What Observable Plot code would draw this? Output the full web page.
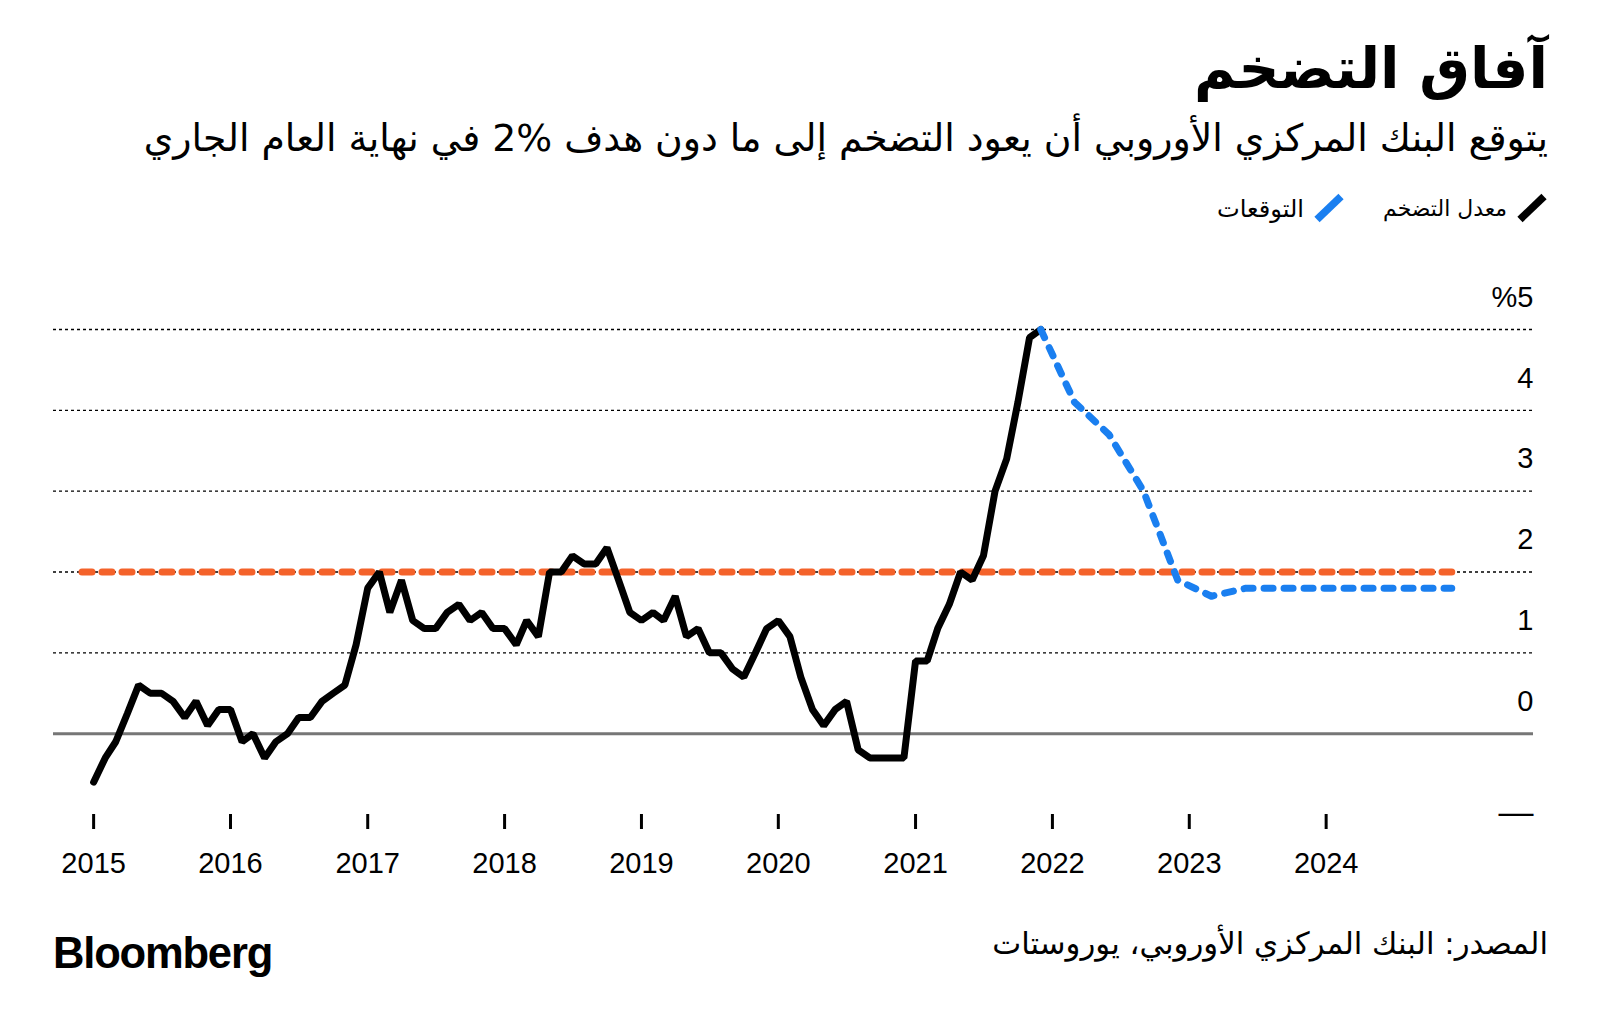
<!DOCTYPE html>
<html><head><meta charset="utf-8">
<script src="https://cdn.jsdelivr.net/npm/d3@7"></script>
<script src="https://cdn.jsdelivr.net/npm/@observablehq/plot@0.6"></script>
<style>
body{margin:0;background:#fff;width:1600px;height:1033px;position:relative;overflow:hidden;font-family:"DejaVu Sans",sans-serif;color:#000}
.t{position:absolute;white-space:nowrap;direction:rtl;transform:translateY(-50%);line-height:1.3}
#chart{position:absolute;left:0;top:260px}
#legend{position:absolute;right:52px;top:208px;transform:translateY(-50%);display:flex;direction:rtl;align-items:center;gap:38px}
.li{display:flex;align-items:center;gap:9px;direction:rtl}
.li span{font-size:20px;white-space:nowrap}
#brand{position:absolute;left:53px;top:954px;transform:translateY(-50%);font-family:"Liberation Sans",Arial,sans-serif;font-weight:bold;font-size:43px;letter-spacing:-1.2px;line-height:1}
</style></head><body>
<div id="title" class="t" style="right:52px;top:69px;font-weight:bold;font-size:60px"></div>
<div id="subtitle" class="t" style="right:52px;top:139px;font-size:33px"></div>
<div id="legend"></div>
<div id="chart"></div>
<div id="brand">Bloomberg</div>
<div id="source" class="t" style="right:52px;top:944px;font-size:28px"></div>
<script>
// ---- texts ----
const titleText = "آفاق التضخم";
const subtitleText = "يتوقع البنك المركزي الأوروبي أن يعود التضخم إلى ما دون هدف %2 في نهاية العام الجاري";
const sourceText = "المصدر: البنك المركزي الأوروبي، يوروستات";
const legendLabels = ["معدل التضخم", "التوقعات"];
const legendColors = ["#000000", "#1a7ff0"];

// ---- data ----
// monthly inflation rate, Jan 2015 .. Dec 2021 (%)
const inflation2015 = [-0.6, -0.3, -0.1, 0.25, 0.6, 0.5, 0.5, 0.4, 0.2, 0.4, 0.1, 0.3];
const inflation2016 = [0.3, -0.1, 0.0, -0.3, -0.1, 0.0, 0.2, 0.2, 0.4, 0.5, 0.6, 1.1];
const inflation2017 = [1.8, 2.0, 1.5, 1.9, 1.4, 1.3, 1.3, 1.5, 1.6, 1.4, 1.5, 1.3];
const inflation2018 = [1.3, 1.1, 1.4, 1.2, 2.0, 2.0, 2.2, 2.1, 2.1, 2.3, 1.9, 1.5];
const inflation2019 = [1.4, 1.5, 1.4, 1.7, 1.2, 1.3, 1.0, 1.0, 0.8, 0.7, 1.0, 1.3];
const inflation2020 = [1.4, 1.2, 0.7, 0.3, 0.1, 0.3, 0.4, -0.2, -0.3, -0.3, -0.3, -0.3];
const inflation2021 = [0.9, 0.9, 1.3, 1.6, 2.0, 1.9, 2.2, 3.0, 3.4, 4.1, 4.9, 5.0];
const inflationYears = [2015, 2016, 2017, 2018, 2019, 2020, 2021];
const inflationByYear = [inflation2015, inflation2016, inflation2017, inflation2018, inflation2019, inflation2020, inflation2021];

// ECB projections (quarterly)
const forecastDates = ["2021-12-01","2022-03-01","2022-06-01","2022-09-01","2022-12-01","2023-03-01","2023-06-01","2023-09-01","2023-12-01","2024-03-01","2024-06-01","2024-09-01","2024-12-01"];
const forecastValues = [5.0, 4.1, 3.7, 3.0, 1.9, 1.7, 1.8, 1.8, 1.8, 1.8, 1.8, 1.8, 1.8];

// ECB target
const targetDates = ["2014-12-01", "2024-12-01"];
const targetValues = [2, 2];

const xTickYears = [2015, 2016, 2017, 2018, 2019, 2020, 2021, 2022, 2023, 2024];
const yGrid = [1, 2, 3, 4, 5];
const yTicks = [0, 1, 2, 3, 4, 5];
const yTickLabels = ["0", "1", "2", "3", "4", "%5"];
const yMinLabel = "—";

// ---- build tables ----
const actual = inflationYears.flatMap((yr, i) =>
  inflationByYear[i].map((v, m) => ({date: new Date(Date.UTC(yr, m, 1)), value: v})));
const forecast = forecastDates.map((d, i) => ({date: new Date(d), value: forecastValues[i]}));
const target = targetDates.map((d, i) => ({date: new Date(d), value: targetValues[i]}));
const yearDates = xTickYears.map(y => new Date(Date.UTC(y, 0, 1)));

// ---- header / footer ----
document.getElementById("title").textContent = titleText;
document.getElementById("subtitle").textContent = subtitleText;
document.getElementById("source").textContent = sourceText;
const leg = document.getElementById("legend");
legendLabels.forEach((lab, i) => {
  const d = document.createElement("div");
  d.className = "li";
  d.innerHTML = `<svg width="32" height="31" viewBox="0 0 32 31"><line x1="4" y1="27" x2="28" y2="4" stroke="${legendColors[i]}" stroke-width="7.5"/></svg><span>${lab}</span>`;
  leg.appendChild(d);
});

function fit(el, w) {
  const fs = parseFloat(getComputedStyle(el).fontSize);
  const cw = el.getBoundingClientRect().width;
  el.style.fontSize = (fs * w / cw) + "px";
}
fit(document.getElementById("title"), 354);
fit(document.getElementById("subtitle"), 1405);
fit(document.getElementById("source"), 556);
const spans = leg.querySelectorAll("span");
fit(spans[0], 124);
fit(spans[1], 87);
fit(document.getElementById("brand"), 219);

// ---- chart ----
const chart = Plot.plot({
  width: 1600,
  height: 640,
  marginLeft: 53,
  marginRight: 67,
  marginTop: 69,
  marginBottom: 86,
  style: {fontFamily: "Liberation Sans, Arial, sans-serif", fontSize: "29px", background: "transparent", color: "#000", overflow: "visible"},
  x: {type: "utc", domain: [new Date("2014-09-16"), new Date("2025-07-07")]},
  y: {domain: [-1, 5], axis: null},
  marks: [
    Plot.ruleY(yGrid, {stroke: "#000", strokeWidth: 1.3, strokeDasharray: "3,3"}),
    Plot.ruleY([0], {stroke: "#767676", strokeWidth: 3}),
    Plot.line(target, {x: "date", y: "value", stroke: "#f4622a", strokeWidth: 7, strokeDasharray: "10,10", strokeLinecap: "round"}),
    Plot.line(actual, {x: "date", y: "value", stroke: "#000", strokeWidth: 7, strokeLinejoin: "miter", strokeLinecap: "round"}),
    Plot.line(forecast, {x: "date", y: "value", stroke: "#1a7ff0", strokeWidth: 7, strokeDasharray: "9,11", strokeLinecap: "round"}),
    Plot.text(yTicks, {y: d => d, text: (d, i) => yTickLabels[i], frameAnchor: "right", textAnchor: "end", dy: -32, fontSize: 29, fill: "#000"}),
    Plot.text([-1], {y: d => d, text: () => yMinLabel, frameAnchor: "right", textAnchor: "end", dy: -2, fontSize: 35, fill: "#000"}),
    Plot.axisX({ticks: yearDates, tickSize: 15, tickPadding: 23, strokeWidth: 3, stroke: "#000", tickFormat: d3.utcFormat("%Y"), fontSize: 29, fill: "#000", anchor: "bottom"})
  ]
});
document.getElementById("chart").appendChild(chart);
</script>
</body></html>
